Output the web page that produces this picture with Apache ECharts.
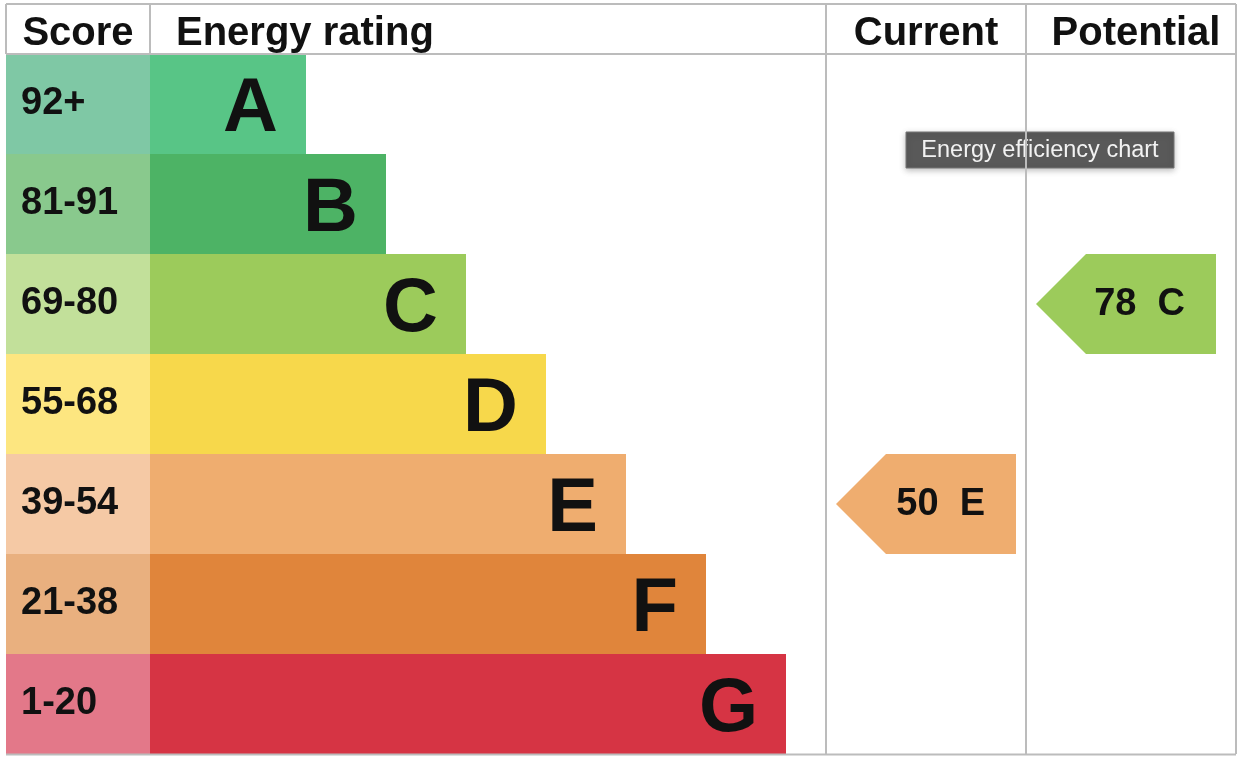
<!DOCTYPE html>
<html>
<head>
<meta charset="utf-8">
<script src="https://cdn.jsdelivr.net/npm/echarts@6/dist/echarts.min.js"></script>
<style>
  html, body { margin: 0; padding: 0; background: #fff; }
  #chart { width: 1238px; height: 758px; }
</style>
</head>
<body>
<div id="chart"></div>
<script>
// bands, top to bottom
const bands = ['A', 'B', 'C', 'D', 'E', 'F', 'G']
const scoreRanges = ['92+', '81-91', '69-80', '55-68', '39-54', '21-38', '1-20']
// bar lengths, on a 0..676 scale (the width of the rating column)
const barLengths = [156, 236, 316, 396, 476, 556, 636]
const scoreColors = ['#7fc8a5', '#89c98d', '#c2e09a', '#fde680', '#f5c9a5', '#e9b07f', '#e37889']
const bandColors = ['#58c586', '#4db365', '#9ccb5b', '#f7d84b', '#efad6f', '#e0853b', '#d63444']

// current / potential
const ratingColumns = ['Current', 'Potential']
const ratingScores = [50, 78]
const ratingBands = ['E', 'C']

const FONT = '"Liberation Sans", Arial, Helvetica, sans-serif'
const LINE = '#bcbcbc'

const chart = echarts.init(document.getElementById('chart'))

const frameLines = [
  [6, 4, 1236, 4],
  [6, 54, 1236, 54],
  [6, 754.5, 1236, 754.5],
  [6, 4, 6, 54],
  [150, 4, 150, 54],
  [826, 4, 826, 754],
  [1026, 4, 1026, 754],
  [1236, 4, 1236, 754]
].map(p => ({
  type: 'line',
  shape: { x1: p[0], y1: p[1], x2: p[2], y2: p[3] },
  style: { stroke: LINE, lineWidth: 2 },
  z: 10
}))

const headerText = (text, x, align) => ({
  type: 'text',
  x: x,
  y: 34,
  style: {
    text: text,
    font: 'bold 40px ' + FONT,
    fill: '#111',
    align: align,
    verticalAlign: 'middle'
  },
  z: 10
})

const option = {
  animation: false,
  backgroundColor: '#fff',
  grid: [
    { left: 6, top: 54, width: 144, height: 700, outerBoundsMode: 'none' },
    { left: 150, top: 54, width: 676, height: 700, outerBoundsMode: 'none' },
    { left: 826, top: 54, width: 400, height: 700, outerBoundsMode: 'none' }
  ],
  xAxis: [
    { gridIndex: 0, type: 'value', min: 0, max: 1, show: false },
    { gridIndex: 1, type: 'value', min: 0, max: 676, show: false },
    {
      gridIndex: 2,
      type: 'category',
      // the Potential column is a little wider than Current, so nudge its header right
      data: ratingColumns.map((c, i) => i === 1
        ? { value: c, textStyle: { padding: [0, 0, 0, 20], verticalAlign: 'middle' } }
        : c),
      position: 'top',
      axisLine: { show: false },
      axisTick: { show: false },
      splitLine: { show: false },
      axisLabel: {
        interval: 0,
        margin: 20,
        verticalAlign: 'middle',
        fontFamily: FONT,
        fontWeight: 'bold',
        fontSize: 40,
        color: '#111'
      }
    }
  ],
  yAxis: [0, 1, 2].map(i => ({
    gridIndex: i,
    type: 'category',
    data: bands,
    inverse: true,
    show: false
  })),
  graphic: [
    ...frameLines,
    headerText('Score', 78, 'center'),
    headerText('Energy rating', 176, 'left'),
    {
      type: 'group',
      x: 906,
      y: 132,
      z: 20,
      children: [
        {
          type: 'rect',
          shape: { x: 0, y: 0, width: 268, height: 36 },
          style: {
            fill: '#595959',
            stroke: '#777',
            lineWidth: 1,
            shadowBlur: 6,
            shadowColor: 'rgba(0,0,0,0.25)',
            shadowOffsetY: 2
          }
        },
        {
          type: 'text',
          x: 134,
          y: 19,
          style: {
            text: 'Energy efficiency chart',
            font: '23.5px ' + FONT,
            fill: '#f2f2f2',
            align: 'center',
            verticalAlign: 'middle'
          }
        }
      ]
    }
  ],
  series: [
    {
      type: 'bar',
      xAxisIndex: 0,
      yAxisIndex: 0,
      barWidth: '100%',
      data: scoreRanges.map((r, i) => ({ value: 1, itemStyle: { color: scoreColors[i] } })),
      label: {
        show: true,
        position: 'insideLeft',
        distance: 15,
        formatter: p => scoreRanges[p.dataIndex],
        fontFamily: FONT,
        fontWeight: 'bold',
        fontSize: 38,
        color: '#111'
      }
    },
    {
      type: 'bar',
      xAxisIndex: 1,
      yAxisIndex: 1,
      barWidth: '100%',
      data: barLengths.map((v, i) => ({ value: v, itemStyle: { color: bandColors[i] } })),
      label: {
        show: true,
        position: 'insideRight',
        distance: 28,
        offset: [0, 6],
        formatter: p => bands[p.dataIndex],
        fontFamily: FONT,
        fontWeight: 'bold',
        fontSize: 76,
        color: '#111'
      }
    },
    {
      type: 'custom',
      xAxisIndex: 2,
      yAxisIndex: 2,
      data: ratingScores.map((s, i) => ({
        value: [i, bands.indexOf(ratingBands[i]), s],
        itemStyle: { color: bandColors[bands.indexOf(ratingBands[i])] }
      })),
      renderItem: (params, api) => {
        const c = api.coord([api.value(0), api.value(1)])
        const size = api.size([1, 1])
        const left = c[0] - size[0] / 2 + 10
        const right = c[0] + size[0] / 2 - 10
        const top = c[1] - size[1] / 2
        const bottom = c[1] + size[1] / 2
        const tip = 50
        const idx = params.dataIndex
        return {
          type: 'group',
          children: [
            {
              type: 'polygon',
              shape: {
                points: [[left, c[1]], [left + tip, top], [right, top], [right, bottom], [left + tip, bottom]]
              },
              style: { fill: api.visual('color') }
            },
            {
              type: 'text',
              x: right - 31,
              y: c[1] + 1,
              style: {
                text: ratingScores[idx] + '  ' + ratingBands[idx],
                font: 'bold 38px ' + FONT,
                fill: '#111',
                align: 'right',
                verticalAlign: 'middle'
              }
            }
          ]
        }
      }
    }
  ]
}

chart.setOption(option)
</script>
</body>
</html>
